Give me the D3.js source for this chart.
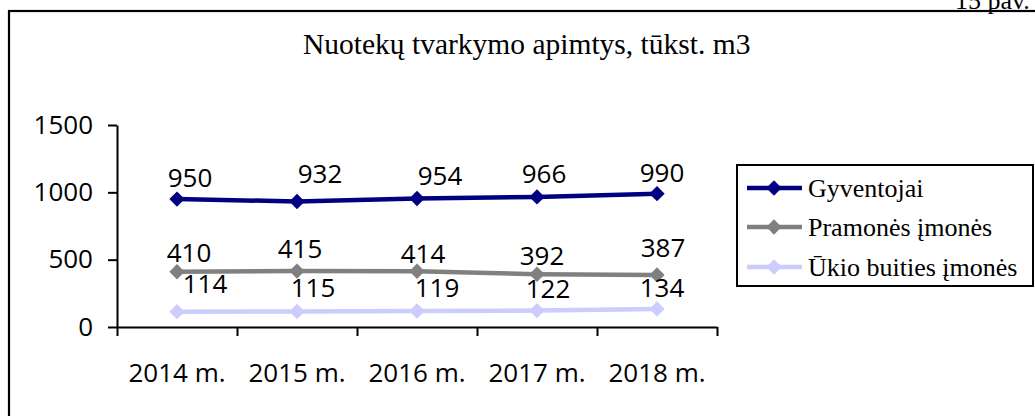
<!DOCTYPE html>
<html>
<head>
<meta charset="utf-8">
<script src="https://cdn.jsdelivr.net/npm/d3@7"></script>
<style>
  body { margin: 0; background: #fff; }
  svg { display: block; }
</style>
</head>
<body>
<script>
// chart data
const years = ["2014 m.", "2015 m.", "2016 m.", "2017 m.", "2018 m."];
const seriesNames = ["Gyventojai", "Pramonės įmonės", "Ūkio buities įmonės"];
const gyventojai = [950, 932, 954, 966, 990];
const pramones = [410, 415, 414, 392, 387];
const ukio = [114, 115, 119, 122, 134];
const yTicks = [0, 500, 1000, 1500];

// label nudges (the original labels were dragged around a bit)
const labelNudge = [
  [[13, -12], [23, -18], [23, -14], [7, -14], [5, -12]],
  [[12, -10], [3, -13], [6, -8], [5, -9], [6, -18]],
  [[28, -19], [16, -15], [20, -14], [11, -13], [5, -12]]
];
const colors = ["#000080", "#808080", "#ccccff"];

const W = 1035, H = 416;
const svg = d3.select("body").append("svg")
  .attr("width", W)
  .attr("height", H);

// outer frame, cut off by the picture edge
svg.append("rect")
  .attr("x", 9).attr("y", 11)
  .attr("width", 1100).attr("height", 500)
  .attr("fill", "none")
  .attr("stroke", "#000")
  .attr("stroke-width", 2.2);

svg.append("text")
  .attr("x", 955).attr("y", 9)
  .style("font-family", "'Liberation Serif', 'Times New Roman', serif")
  .style("font-size", "26px")
  .text("15 pav.");

// title
svg.append("text")
  .attr("x", 303).attr("y", 54)
  .style("font-family", "'Liberation Serif', 'Times New Roman', serif")
  .style("font-size", "29.5px")
  .text("Nuotekų tvarkymo apimtys, tūkst. m3");

const plot = {left: 117, right: 717, top: 125, bottom: 327};

const x = d3.scaleBand().domain(years).range([plot.left, plot.right]);
const xEdge = d3.scaleLinear().domain([0, years.length]).range([plot.left, plot.right]);
const y = d3.scaleLinear().domain([0, 1500]).range([plot.bottom, plot.top]);

const sansFont = "'Open Sans', 'Liberation Sans', sans-serif";

// y axis
const yAxis = d3.axisLeft(y).tickValues(yTicks).tickFormat(d3.format("d"))
  .tickSize(9).tickPadding(15).tickSizeOuter(0);
const gy = svg.append("g")
  .attr("transform", "translate(" + plot.left + ",0)")
  .call(yAxis);
gy.select(".domain").attr("stroke-width", 2);
gy.selectAll(".tick line").attr("stroke-width", 2);
gy.selectAll(".tick text")
  .style("font-family", sansFont)
  .style("font-size", "26px")
  .attr("fill", "#000");

// x axis (ticks on the category edges)
const xAxis = d3.axisBottom(xEdge).ticks(years.length).tickSize(9).tickFormat("").tickSizeOuter(0);
const gx = svg.append("g")
  .attr("transform", "translate(0," + plot.bottom + ")")
  .call(xAxis);
gx.select(".domain").attr("stroke-width", 2);
gx.selectAll(".tick line").attr("stroke-width", 2);

svg.append("g").selectAll("text")
  .data(years)
  .enter().append("text")
    .attr("x", d => x(d) + x.bandwidth() / 2)
    .attr("y", 382)
    .attr("text-anchor", "middle")
    .style("font-family", sansFont)
    .style("font-size", "26px")
    .text(d => d);

// lines
const allSeries = [gyventojai, pramones, ukio];
const line = d3.line()
  .x((d, i) => x(years[i]) + x.bandwidth() / 2)
  .y(d => y(d));
const diamond = d3.symbol().type(d3.symbolDiamond2).size(150);

allSeries.forEach((vals, s) => {
  const g = svg.append("g");
  g.append("path")
    .datum(vals)
    .attr("d", line)
    .attr("fill", "none")
    .attr("stroke", colors[s])
    .attr("stroke-width", 4.5);
  g.selectAll("path.mk")
    .data(vals)
    .enter().append("path")
      .attr("class", "mk")
      .attr("d", diamond)
      .attr("transform", (d, i) => "translate(" + (x(years[i]) + x.bandwidth() / 2) + "," + y(d) + ")")
      .attr("fill", colors[s]);
});

// data labels (drawn last so they sit on top)
allSeries.forEach((vals, s) => {
  svg.append("g").selectAll("text")
    .data(vals)
    .enter().append("text")
      .attr("x", (d, i) => x(years[i]) + x.bandwidth() / 2 + labelNudge[s][i][0])
      .attr("y", (d, i) => y(d) + labelNudge[s][i][1])
      .attr("text-anchor", "middle")
      .style("font-family", sansFont)
      .style("font-size", "26px")
      .text(d => d);
});

// legend
const legend = svg.append("g");
legend.append("rect")
  .attr("x", 737).attr("y", 165)
  .attr("width", 296).attr("height", 121)
  .attr("fill", "#fff")
  .attr("stroke", "#000")
  .attr("stroke-width", 2);
const legendRows = [188, 227, 267];
seriesNames.forEach((name, s) => {
  const ly = legendRows[s];
  legend.append("line")
    .attr("x1", 747).attr("x2", 802)
    .attr("y1", ly).attr("y2", ly)
    .attr("stroke", colors[s])
    .attr("stroke-width", 4.5);
  legend.append("path")
    .attr("d", diamond)
    .attr("transform", "translate(774," + ly + ")")
    .attr("fill", colors[s]);
  legend.append("text")
    .attr("x", 808).attr("y", ly + 9)
    .style("font-family", "'Liberation Serif', 'Times New Roman', serif")
    .style("font-size", "26px")
    .text(name);
});
</script>
</body>
</html>
